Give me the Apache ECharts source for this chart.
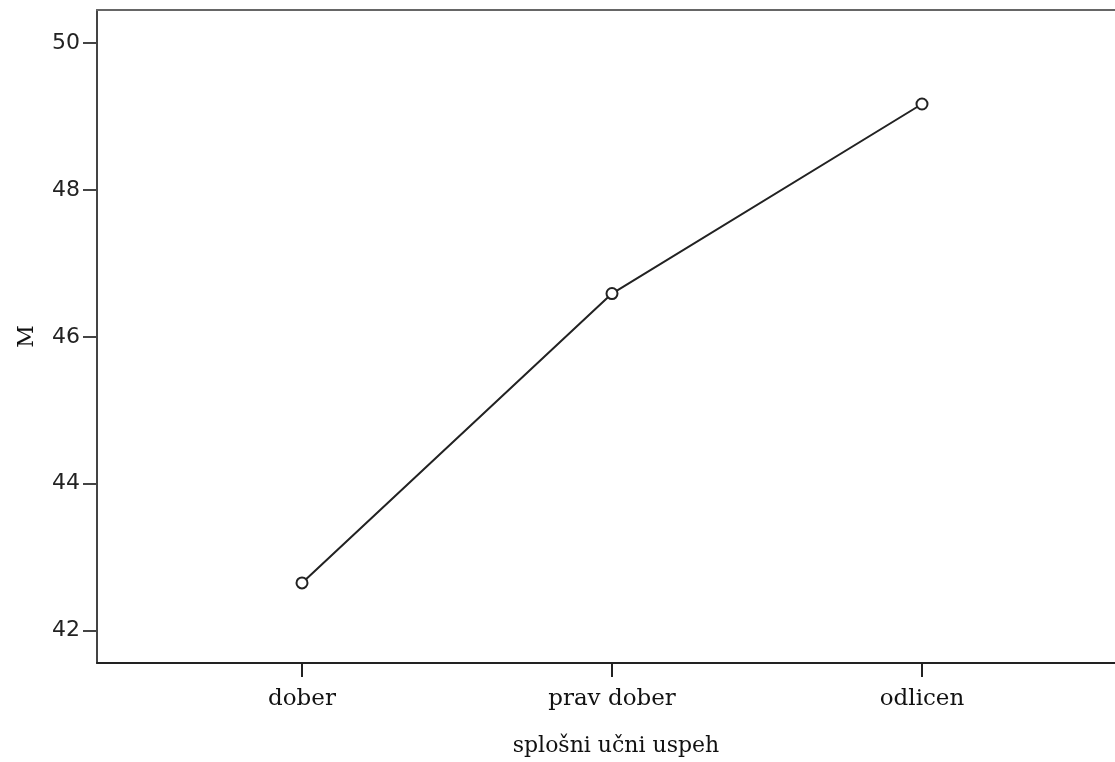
<!DOCTYPE html>
<html>
<head>
<meta charset="utf-8">
<script src="https://cdn.jsdelivr.net/npm/echarts@6/dist/echarts.min.js"></script>
<style>html,body{margin:0;padding:0;background:#fff;}#c{width:1115px;height:762px;}</style>
</head>
<body>
<div id="c"></div>
<script>
const categories = ['dober', 'prav dober', 'odlicen'];
const values = [42.65, 46.59, 49.17];
const yTicks = [42, 44, 46, 48, 50];
const xTitle = 'splošni učni uspeh';
const yTitle = 'M';

const chart = echarts.init(document.getElementById('c'));
const idx = categories.map((_, i) => i);
const xMin = -0.6613, xMax = 2.6226;
chart.setOption({
  animation: false,
  backgroundColor: '#fff',
  grid: {left: 97, top: 10, right: 0, bottom: 99, show: false},
  xAxis: [{
    type: 'value', min: xMin, max: xMax,
    name: xTitle, nameLocation: 'middle', nameGap: 72,
    nameTextStyle: {fontFamily: 'DejaVu Serif', fontSize: 22, color: '#111', padding: [0, 0, 0, 20]},
    axisLine: {show: true, onZero: false, lineStyle: {color: '#222', width: 2}},
    axisTick: {show: true, length: 14, lineStyle: {color: '#222', width: 2}, customValues: idx},
    axisLabel: {customValues: idx, formatter: v => categories[Math.round(v)], fontFamily: 'DejaVu Serif', fontSize: 23, color: '#111', margin: 25},
    splitLine: {show: false}
  }, {
    type: 'value', min: xMin, max: xMax, position: 'top',
    axisLine: {show: true, onZero: false, lineStyle: {color: '#666', width: 2}},
    axisTick: {show: false}, axisLabel: {show: false}, splitLine: {show: false}
  }],
  yAxis: {
    type: 'value', min: 41.56, max: 50.45,
    name: yTitle, nameLocation: 'middle', nameGap: 59, nameRotate: 90,
    nameTextStyle: {fontFamily: 'DejaVu Serif', fontSize: 22, color: '#111'},
    axisLine: {show: true, onZero: false, lineStyle: {color: '#444', width: 2}},
    axisTick: {show: true, length: 14, lineStyle: {color: '#444', width: 2}, customValues: yTicks},
    axisLabel: {customValues: yTicks, fontFamily: 'DejaVu Sans', fontSize: 22, color: '#222', margin: 17},
    splitLine: {show: false}
  },
  series: [{
    type: 'line',
    xAxisIndex: 0,
    data: values.map((v, i) => [i, v]),
    symbol: 'emptyCircle', symbolSize: 11,
    lineStyle: {color: '#222', width: 2},
    itemStyle: {color: '#222', borderColor: '#222', borderWidth: 1.5}
  }]
});
</script>
</body>
</html>
